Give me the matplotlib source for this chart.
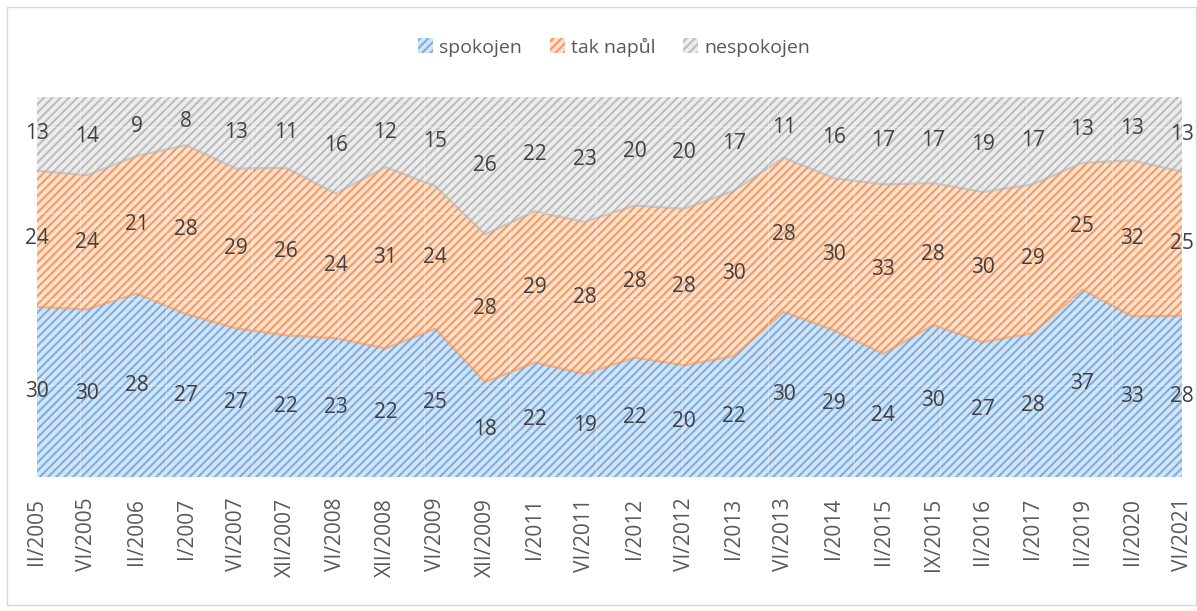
import numpy as np
import matplotlib.pyplot as plt
from matplotlib.patches import Patch, Rectangle

plt.rcParams['font.family'] = ['Open Sans', 'DejaVu Sans']
plt.rcParams['hatch.linewidth'] = 1.5

# data
periods = ['II/2005', 'VI/2005', 'II/2006', 'I/2007', 'VI/2007', 'XII/2007',
           'VI/2008', 'XII/2008', 'VI/2009', 'XII/2009', 'I/2011', 'VI/2011',
           'I/2012', 'VI/2012', 'I/2013', 'VI/2013', 'I/2014', 'II/2015',
           'IX/2015', 'II/2016', 'I/2017', 'II/2019', 'II/2020', 'VI/2021']
spokojen = [30, 30, 28, 27, 27, 22, 23, 22, 25, 18, 22, 19,
            22, 20, 22, 30, 29, 24, 30, 27, 28, 37, 33, 28]
tak_napul = [24, 24, 21, 28, 29, 26, 24, 31, 24, 28, 29, 28,
             28, 28, 30, 28, 30, 33, 28, 30, 29, 25, 32, 25]
nespokojen = [13, 14, 9, 8, 13, 11, 16, 12, 15, 26, 22, 23,
              20, 20, 17, 11, 16, 17, 17, 19, 17, 13, 13, 13]

series = [('spokojen', spokojen), ('tak napůl', tak_napul), ('nespokojen', nespokojen)]
face = ['#d3e4f5', '#fde0cd', '#ececec']
stripe = ['#7daedf', '#f29c63', '#bdbdbd']
edge = ['#6aa1d8', '#ee8a47', '#aaaaaa']

fig = plt.figure(figsize=(11.97, 6.11), dpi=100)
ax = fig.add_axes([37/1197, 1 - 477/611, 1145/1197, 380/611])

x = np.arange(len(periods))
vals = np.array([s for _, s in series], dtype=float)
share = vals / vals.sum(axis=0)
base = np.zeros(len(periods))
for i, (name, v) in enumerate(series):
    top = base + share[i]
    ax.fill_between(x, base, top, facecolor=face[i], edgecolor=stripe[i],
                    hatch='////', linewidth=0)
    if i + 1 < len(series):
        # soft edge where the next area starts
        ax.plot(x, top, color=edge[i + 1], lw=1.6, alpha=0.5, zorder=2.5)
    for xi, b, t, val in zip(x, base, top, v):
        ax.text(xi, (b + t) / 2, str(val), ha='center', va='center',
                fontsize=15, color='#404040', clip_on=False, zorder=5)
    base = top

# faint texture tile seams
for gx in np.arange(43/49.78, 23, 86/49.78):
    ax.axvline(gx, color='white', lw=0.8, alpha=0.3, zorder=3)
for gy in [0.242, 0.468, 0.695, 0.921]:
    ax.axhline(gy, color='white', lw=0.8, alpha=0.3, zorder=3)

ax.set_xlim(0, len(periods) - 1)
ax.set_ylim(0, 1)
ax.set_yticks([])
ax.set_xticks(x)
ax.set_xticklabels(periods, rotation=90, fontsize=15, color='#595959')
ax.tick_params(axis='x', length=0, pad=15)
for sp in ax.spines.values():
    sp.set_visible(False)

handles = [Patch(facecolor=face[i], edgecolor=stripe[i], hatch='////', linewidth=0,
                 label=name) for i, (name, _) in enumerate(series)]
fig.legend(handles=handles, loc='center', bbox_to_anchor=(614/1197, 1 - 47/611),
           ncol=3, frameon=False, fontsize=14, labelcolor='#595959',
           handlelength=0.77, handleheight=0.77, handletextpad=0.3,
           columnspacing=1.45)

fig.patches.append(Rectangle((7/1197, 1 - 605/611), 1189/1197, 598/611,
                             transform=fig.transFigure, fill=False,
                             edgecolor='#d9d9d9', lw=1))

fig.savefig('out.png', dpi=100)
